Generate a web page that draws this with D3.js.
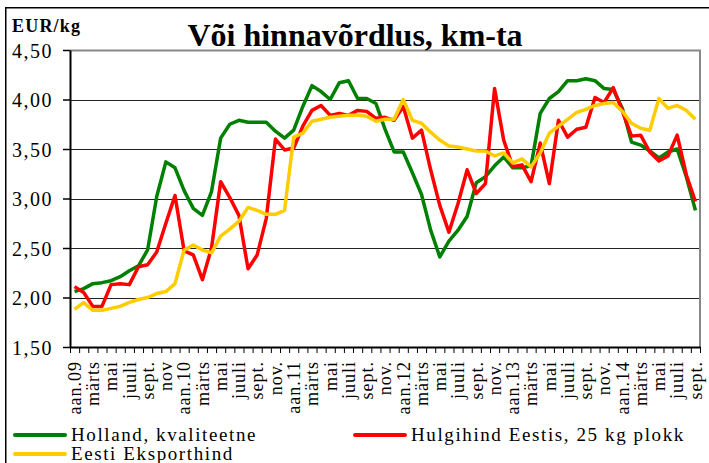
<!DOCTYPE html>
<html>
<head>
<meta charset="utf-8">
<script src="https://cdn.jsdelivr.net/npm/d3@7"></script>
<style>
  body { margin: 0; background: #fff; }
  svg text { font-family: "Liberation Serif", "Times New Roman", serif; }
</style>
</head>
<body>
<div id="line-vis"></div>
<script>
// month labels (every second month is labelled)
var tickLabels = [
  "aan.09", "märts", "mai", "juuli", "sept.", "nov",
  "aan.10", "märts", "mai", "juuli", "sept.", "nov.",
  "aan.11", "märts", "mai", "juuli", "sept.", "nov.",
  "aan.12", "märts", "mai", "juuli", "sept.", "nov.",
  "aan.13", "märts", "mai", "juuli", "sept.", "nov.",
  "aan.14", "märts", "mai", "juuli", "sept."
];

// EUR/kg, jan 2009 .. sept 2014
var holland = [
  2.06, 2.09, 2.14, 2.15, 2.17, 2.21, 2.27, 2.32, 2.48, 3.02,
  3.37, 3.31, 3.08, 2.90, 2.83, 3.07, 3.61, 3.75, 3.79, 3.77,
  3.77, 3.77, 3.68, 3.61, 3.69, 3.93, 4.14, 4.08, 4.00, 4.17,
  4.19, 4.01, 4.01, 3.96, 3.70, 3.47, 3.47, 3.26, 3.04, 2.68,
  2.41, 2.57, 2.68, 2.82, 3.16, 3.22, 3.33, 3.42, 3.31, 3.31,
  3.33, 3.86, 4.01, 4.08, 4.19, 4.19, 4.21, 4.19, 4.11, 4.10,
  3.91, 3.57, 3.54, 3.48, 3.41, 3.47, 3.50, 3.22, 2.88
];
var hulgihind = [
  2.11, 2.05, 1.91, 1.91, 2.13, 2.14, 2.13, 2.31, 2.33, 2.46,
  2.75, 3.03, 2.47, 2.43, 2.18, 2.50, 3.17, 3.01, 2.83, 2.29,
  2.43, 2.80, 3.60, 3.49, 3.51, 3.73, 3.89, 3.94, 3.84, 3.86,
  3.84, 3.89, 3.88, 3.81, 3.82, 3.79, 3.93, 3.61, 3.69, 3.29,
  2.93, 2.66, 2.95, 3.29, 3.05, 3.15, 4.11, 3.59, 3.32, 3.34,
  3.17, 3.56, 3.15, 3.79, 3.62, 3.70, 3.72, 4.02, 3.97, 4.12,
  3.88, 3.63, 3.64, 3.47, 3.38, 3.43, 3.64, 3.24, 2.97
];
var eksport = [
  1.88, 1.95, 1.87, 1.87, 1.89, 1.91, 1.95, 1.98, 2.00, 2.04,
  2.06, 2.14, 2.48, 2.53, 2.48, 2.45, 2.62, 2.69, 2.77, 2.91,
  2.88, 2.84, 2.84, 2.88, 3.62, 3.66, 3.78, 3.80, 3.82, 3.83,
  3.84, 3.84, 3.83, 3.78, 3.80, 3.80, 4.00, 3.79, 3.76, 3.67,
  3.59, 3.53, 3.52, 3.50, 3.48, 3.48, 3.43, 3.46, 3.36, 3.40,
  3.32, 3.46, 3.66, 3.73, 3.80, 3.87, 3.90, 3.94, 3.96, 3.97,
  3.88, 3.76, 3.71, 3.69, 4.01, 3.91, 3.94, 3.89, 3.80
];

var seriesNames = ["Holland, kvaliteetne", "Hulgihind Eestis, 25 kg plokk", "Eesti Eksporthind"];
var seriesColors = ["#008000", "#ff0000", "#ffcc00"];
var yTicks = [1.5, 2, 2.5, 3, 3.5, 4, 4.5];

var serif = '"Liberation Serif", "Times New Roman", serif';

PriceVis = function(_parentElement, _series) {
  this.parentElement = _parentElement;
  this.series = _series;
  this.initVis();
  this.updateVis();
};

PriceVis.prototype.initVis = function() {
  var vis = this;

  vis.width = 709;
  vis.height = 463;
  vis.plot = { left: 70, right: 700, top: 50, bottom: 347 };
  vis.nMonths = vis.series[0].values.length;

  vis.svg = d3.select("#" + vis.parentElement).append("svg")
    .attr("width", vis.width)
    .attr("height", vis.height);

  // outer frame
  vis.svg.append("rect")
    .attr("x", 5.75)
    .attr("y", 7.75)
    .attr("width", 800)
    .attr("height", 800)
    .attr("fill", "none")
    .attr("stroke", "#000")
    .attr("stroke-width", 1.5);

  vis.xScale = d3.scaleLinear()
    .domain([0, vis.nMonths])
    .range([vis.plot.left, vis.plot.right]);

  vis.yScale = d3.scaleLinear()
    .domain([1.5, 4.5])
    .range([vis.plot.bottom, vis.plot.top]);

  // gridlines
  vis.svg.selectAll(".grid")
    .data(yTicks.slice(1, -1))
    .enter()
    .append("line")
    .attr("class", "grid")
    .attr("x1", vis.plot.left)
    .attr("x2", vis.plot.right)
    .attr("y1", (d) => Math.round(vis.yScale(d)) + 0.5)
    .attr("y2", (d) => Math.round(vis.yScale(d)) + 0.5)
    .attr("stroke", "#222")
    .attr("stroke-width", 1);

  // plot area border top / right
  vis.svg.append("path")
    .attr("d", "M" + vis.plot.left + "," + (vis.plot.top + 0.5) + "H" + (vis.plot.right) + "V" + vis.plot.bottom)
    .attr("fill", "none")
    .attr("stroke", "#888")
    .attr("stroke-width", 2);

  vis.yAxis = d3.axisLeft()
    .scale(vis.yScale)
    .tickValues(yTicks)
    .tickSize(7)
    .tickSizeOuter(0)
    .tickPadding(10)
    .tickFormat((d) => d3.format(".2f")(d).replace(".", ","));

  var yg = vis.svg.append("g")
    .attr("class", "y-axis axis")
    .attr("transform", "translate(" + vis.plot.left + ",0)")
    .call(vis.yAxis);
  yg.attr("font-family", null);
  yg.select(".domain").attr("stroke", "#000").attr("stroke-width", 2);
  yg.selectAll(".tick line").attr("stroke", "#000").attr("stroke-width", 1.5);
  yg.selectAll(".tick text")
    .attr("fill", "#000")
    .attr("dy", "0.36em")
    .style("font-family", serif)
    .style("font-size", "20px")
    .style("letter-spacing", "1.5px");

  vis.xAxis = d3.axisBottom()
    .scale(vis.xScale)
    .tickValues(d3.range(vis.nMonths + 1))
    .tickSize(6)
    .tickSizeOuter(0)
    .tickFormat("");

  var xg = vis.svg.append("g")
    .attr("class", "x-axis axis")
    .attr("transform", "translate(0," + vis.plot.bottom + ")")
    .call(vis.xAxis);
  xg.select(".domain").attr("stroke", "#000").attr("stroke-width", 2);
  xg.selectAll(".tick line").attr("stroke", "#000").attr("stroke-width", 1);

  // month labels, rotated
  vis.svg.selectAll(".month")
    .data(tickLabels)
    .enter()
    .append("text")
    .attr("class", "month")
    .attr("transform", (d, i) => {
      return "translate(" + vis.xScale(i * 2 + 0.5) + "," + (vis.plot.bottom + 14) + ") rotate(-90)";
    })
    .attr("dy", "0.35em")
    .style("text-anchor", "end")
    .style("font-family", serif)
    .style("font-size", "18px")
    .style("letter-spacing", "1px")
    .text((d) => d);

  vis.svg.append("text")
    .text("Või hinnavõrdlus, km-ta")
    .attr("x", 355)
    .attr("y", 46)
    .style("text-anchor", "middle")
    .style("font-family", serif)
    .style("font-weight", "bold")
    .style("font-size", "32px");

  vis.svg.append("text")
    .text("EUR/kg")
    .attr("x", 12)
    .attr("y", 32)
    .style("font-family", serif)
    .style("font-weight", "bold")
    .style("font-size", "18px")
    .style("letter-spacing", "1.2px");

  // legend
  var legendPos = [
    { x: 15, y: 435 },
    { x: 355, y: 435 },
    { x: 15, y: 454 }
  ];

  var legend = vis.svg.selectAll(".legend")
    .data(vis.series)
    .enter()
    .append("g")
    .attr("class", "legend")
    .attr("transform", (d, i) => "translate(" + legendPos[i].x + "," + legendPos[i].y + ")");

  legend.append("line")
    .attr("x1", 0)
    .attr("x2", 50)
    .attr("stroke", (d) => d.color)
    .attr("stroke-width", 4)
    .attr("stroke-linecap", "round");

  legend.append("text")
    .attr("x", 56)
    .attr("y", 6)
    .style("font-family", serif)
    .style("font-size", "19px")
    .style("letter-spacing", "1.6px")
    .text((d) => d.name);
}

PriceVis.prototype.updateVis = function() {
  var vis = this;

  var line = d3.line()
    .x((d, i) => vis.xScale(i + 0.5))
    .y((d) => vis.yScale(d));

  vis.svg.selectAll(".series")
    .data(vis.series)
    .enter()
    .append("path")
    .attr("class", "series")
    .attr("fill", "none")
    .attr("stroke", (d) => d.color)
    .attr("stroke-width", 3.5)
    .attr("stroke-linejoin", "round")
    .attr("d", (d) => line(d.values));
}

var priceVis = new PriceVis("line-vis", [
  { name: seriesNames[0], color: seriesColors[0], values: holland },
  { name: seriesNames[1], color: seriesColors[1], values: hulgihind },
  { name: seriesNames[2], color: seriesColors[2], values: eksport }
]);
</script>
</body>
</html>
